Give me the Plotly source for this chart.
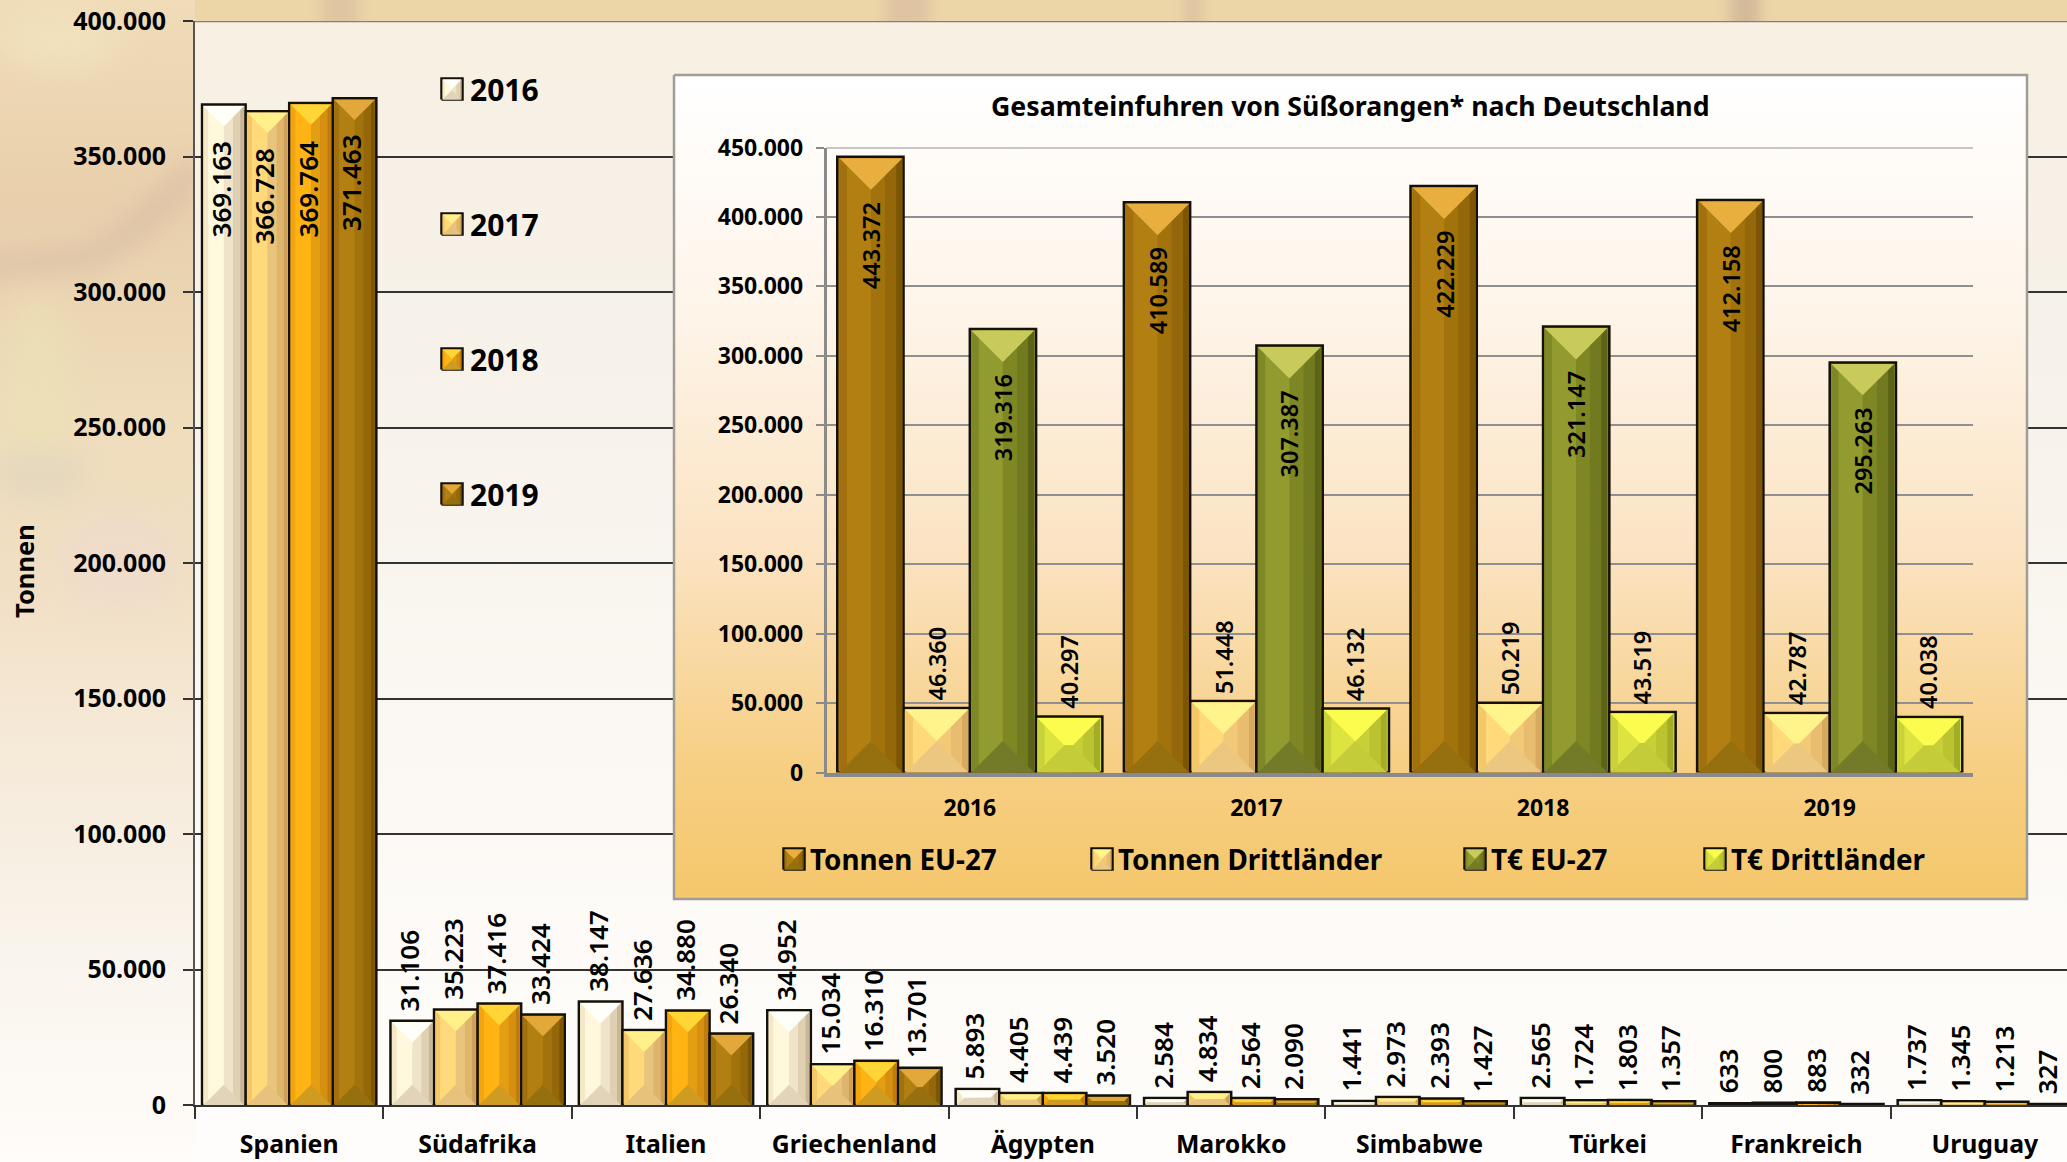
import base64
import plotly.graph_objects as go

W, H = 2067, 1162
FONT = "Noto Sans"

# ---------- data ----------
countries = ["Spanien", "Südafrika", "Italien", "Griechenland", "Ägypten",
             "Marokko", "Simbabwe", "Türkei", "Frankreich", "Uruguay"]
v2016 = [369163, 31106, 38147, 34952, 5893, 2584, 1441, 2565, 633, 1737]
v2017 = [366728, 35223, 27636, 15034, 4405, 4834, 2973, 1724, 800, 1345]
v2018 = [369764, 37416, 34880, 16310, 4439, 2564, 2393, 1803, 883, 1213]
v2019 = [371463, 33424, 26340, 13701, 3520, 2090, 1427, 1357, 332, 327]

years = ["2016", "2017", "2018", "2019"]
tonnen_eu = [443372, 410589, 422229, 412158]
tonnen_dritt = [46360, 51448, 50219, 42787]
teuro_eu = [319316, 307387, 321147, 295263]
teuro_dritt = [40297, 46132, 43519, 40038]

inset_title = "Gesamteinfuhren von Süßorangen* nach Deutschland"

# colours: five vertical strips, top facet, bottom facet
PAL = {
    "2016": ["#f4e8c6", "#fff8dc", "#efe4ca", "#dfd0b2", "#c9b797", "#fffffa", "#e2d4b8"],
    "2017": ["#f4c768", "#ffd97a", "#e9c47c", "#deb56c", "#cf9f55", "#fff08a", "#e6c27c"],
    "2018": ["#f3a40e", "#ffb414", "#e49e12", "#d68f10", "#bd7c0c", "#ffd635", "#cf9b20"],
    "2019": ["#a2700e", "#b27f12", "#a2730c", "#94680a", "#7c5604", "#e2a83a", "#96700f"],
    "Tonnen EU-27": ["#a2700e", "#b27f12", "#a2730c", "#94680a", "#7c5604", "#e8ae3e", "#96700f"],
    "Tonnen Drittländer": ["#f4c768", "#ffd97a", "#f3c877", "#e8bd70", "#d8aa60", "#fff48c", "#ecc780"],
    "T€ EU-27": ["#7f8826", "#929b2f", "#7f8725", "#727a20", "#5c6317", "#c8ca5c", "#737a28"],
    "T€ Drittländer": ["#c9d238", "#dde440", "#c8d037", "#bbc330", "#a5ac26", "#fcfc4e", "#c4cc3a"],
}
STRIPS = [0, 0.12, 0.5, 0.72, 0.9, 1]

# ---------- geometry of the two plots, in page pixels ----------
MX0, MY0, MY1 = 195.0, 21.0, 1105.0      # main plot left, top, bottom
CAT = 188.4
MGAP = 0.075
IX0, IX1, IY0, IY1 = 826.5, 1973.0, 147.5, 772.5   # inset plot
IGAP = 0.08
MYMAX, IYMAX = 400000, 450000


def bevel(fig, xa, ya, name, rects, ux, uy, pad=1.5):
    """Facets over each bar. rects: (left, right, bottom, top) in axis units;
    ux, uy: pixels per axis unit."""
    pal = PAL[name]
    px = pad / ux
    py = pad / uy
    for s in range(5):
        xs, ys = [], []
        for l, r, b, t in rects:
            ww = r - l - 2 * px
            a = l + px + ww * STRIPS[s]
            c = l + px + ww * STRIPS[s + 1]
            xs += [a, c, c, a, a, None]
            ys += [b, b, t - py, t - py, b, None]
        fig.add_trace(go.Scatter(x=xs, y=ys, xaxis=xa, yaxis=ya, mode="lines", line_width=0,
                                 fill="toself", fillcolor=pal[s], hoverinfo="skip", showlegend=False))
    for col, top in ((pal[5], True), (pal[6], False)):
        xs, ys = [], []
        for l, r, b, t in rects:
            l2, r2 = l + px, r - px
            t2 = t - py
            hpx = (t2 - b) * uy
            wpx = (r2 - l2) * ux
            d = min(hpx, wpx) / 2
            dx, dy = d / ux, d / uy
            if top:
                xs += [l2, r2, r2 - dx, l2 + dx, l2, None]
                ys += [t2, t2, t2 - dy, t2 - dy, t2, None]
            else:
                xs += [l2, r2, r2 - dx, l2 + dx, l2, None]
                ys += [b, b, b + dy, b + dy, b, None]
        fig.add_trace(go.Scatter(x=xs, y=ys, xaxis=xa, yaxis=ya, mode="lines", line_width=0,
                                 fill="toself", fillcolor=col, hoverinfo="skip", showlegend=False))


def de(v):
    return f"{v:,}".replace(",", ".")


fig = go.Figure()
ann = []

# ---------- main chart ----------
main_series = [("2016", v2016), ("2017", v2017), ("2018", v2018), ("2019", v2019)]
mux = CAT
muy = (MY1 - MY0) / MYMAX
xs_idx = list(range(len(countries)))
for name, vals in main_series:
    fig.add_trace(go.Bar(x=xs_idx, y=vals, name=name, xaxis="x", yaxis="y", showlegend=False,
                         marker=dict(color=PAL[name][1], line=dict(color="#14110a", width=2.5))))
bw = (1 - MGAP) / 4
for j, (name, vals) in enumerate(main_series):
    rects = []
    for i, v in enumerate(vals):
        l = i - (1 - MGAP) / 2 + j * bw
        rects.append((l, l + bw, 0, v))
        inside = v > 100000
        ann.append(dict(x=l + bw / 2, y=v, xref="x", yref="y", text=de(v), textangle=-90, showarrow=False,
                        yanchor="top" if inside else "bottom", xanchor="center",
                        xshift=-3, yshift=-35 if inside else 7.5,
                        font=dict(family=FONT, size=26, color="#000000", weight=600)))
    bevel(fig, "x", "y", name, rects, mux, muy)

# ---------- inset panel (page-pixel axes x2 / y2) ----------
PX0, PX1, PY0, PY1 = 674, 2027, 75, 899
fig.add_trace(go.Scatter(x=[PX0, PX1, PX1, PX0, PX0], y=[PY0, PY0, PY1, PY1, PY0], xaxis="x2", yaxis="y2",
                         mode="lines", line=dict(color="#a09c96", width=2.5), fill="toself",
                         fillgradient=dict(type="vertical",
                                           colorscale=[[0, "#f5c76c"], [0.16, "#f7cf83"], [0.42, "#fbe3c2"],
                                                       [0.72, "#fef5ea"], [1, "#ffffff"]]),
                         hoverinfo="skip", showlegend=False))

# ---------- inset chart ----------
inset_series = [("Tonnen EU-27", tonnen_eu), ("Tonnen Drittländer", tonnen_dritt),
                ("T€ EU-27", teuro_eu), ("T€ Drittländer", teuro_dritt)]
iux = (IX1 - IX0) / 4
iuy = (IY1 - IY0) / IYMAX
ibw = (1 - IGAP) / 4
yrs_idx = list(range(len(years)))
for name, vals in inset_series:
    fig.add_trace(go.Bar(x=yrs_idx, y=vals, name=name, xaxis="x3", yaxis="y3", showlegend=False,
                         marker=dict(color=PAL[name][1], line=dict(color="#14110a", width=2.5))))
for j, (name, vals) in enumerate(inset_series):
    rects = []
    for i, v in enumerate(vals):
        l = i - (1 - IGAP) / 2 + j * ibw
        rects.append((l, l + ibw, 0, v))
        inside = v > 100000
        ann.append(dict(x=l + ibw / 2, y=v, xref="x3", yref="y3", text=de(v), textangle=-90, showarrow=False,
                        yanchor="top" if inside else "bottom", xanchor="center",
                        yshift=-43 if inside else 5.5,
                        font=dict(family=FONT, size=23.5, color="#000000", weight=600)))
    bevel(fig, "x3", "y3", name, rects, iux, iuy)


# ---------- legends: bevelled swatches + real text, placed in page pixels ----------
def swatch(name, cx, cy, label, fs, gap):
    half = 10.5
    fig.add_trace(go.Scatter(x=[cx - half, cx + half, cx + half, cx - half, cx - half],
                             y=[cy + half, cy + half, cy - half, cy - half, cy + half],
                             xaxis="x2", yaxis="y2", mode="lines", fill="toself", fillcolor=PAL[name][1],
                             line=dict(color="#14110a", width=2.5), hoverinfo="skip", showlegend=False, name=name))
    bevel(fig, "x2", "y2", name, [(cx - half, cx + half, cy + half, cy - half)], 1.0, -1.0, pad=1.0)
    ann.append(dict(x=cx + half + gap, y=cy, xref="x2", yref="y2", text=label, showarrow=False,
                    xanchor="left", yanchor="middle", font=dict(family=FONT, size=fs, color="#000000", weight=700)))


for yr, ypx in zip(years, (89, 224, 359, 494)):
    swatch(yr, 452, ypx, yr, 30, 5)
for (name, _), xpx in zip(inset_series, (794, 1102, 1475, 1715)):
    swatch(name, xpx, 859, name, 27.8, 3)

ann.append(dict(x=(PX0 + PX1) / 2, y=105, xref="x2", yref="y2", text=inset_title, showarrow=False,
                xanchor="center", yanchor="middle", font=dict(family=FONT, size=26.7, color="#000000", weight=700)))
ann.append(dict(x=24, y=571, xref="x2", yref="y2", text="Tonnen", textangle=-90, showarrow=False,
                xanchor="center", yanchor="middle", font=dict(family=FONT, size=25.5, color="#000000", weight=700)))

# ---------- page background ----------
svg = f"""<svg xmlns='http://www.w3.org/2000/svg' width='{W}' height='{H}' viewBox='0 0 {W} {H}'>
<defs>
<linearGradient id='a' x1='0' y1='0' x2='0' y2='1'>
<stop offset='0' stop-color='#f9f0e2'/><stop offset='0.14' stop-color='#f6f0e6'/><stop offset='0.35' stop-color='#f7f2ea'/>
<stop offset='0.7' stop-color='#fcf9f5'/><stop offset='1' stop-color='#fffdfb'/></linearGradient>
<linearGradient id='b' x1='0' y1='0' x2='0' y2='1'>
<stop offset='0' stop-color='#f0dcb8'/><stop offset='0.18' stop-color='#e9cfac'/>
<stop offset='0.35' stop-color='#eedcba'/><stop offset='0.5' stop-color='#f1dfc4'/><stop offset='0.65' stop-color='#f6ead9'/>
<stop offset='0.82' stop-color='#f9f4ec'/><stop offset='1' stop-color='#fffcf9'/></linearGradient>
<filter id='f' filterUnits='userSpaceOnUse' x='-100' y='-100' width='500' height='1000'><feGaussianBlur stdDeviation='14'/></filter>
<filter id='g' filterUnits='userSpaceOnUse' x='0' y='-40' width='{W}' height='100'><feGaussianBlur stdDeviation='7'/></filter>
<clipPath id='l'><rect x='0' y='0' width='195' height='{H}'/></clipPath>
<clipPath id='t'><rect x='0' y='0' width='{W}' height='21'/></clipPath>
</defs>
<rect width='{W}' height='{H}' fill='url(#a)'/>
<rect width='{W}' height='21' fill='#ecd6a8'/>
<g clip-path='url(#t)'><g filter='url(#g)' opacity='0.8'>
<rect x='885' y='-20' width='45' height='60' fill='#dcbfa2'/>
<rect x='1185' y='-20' width='16' height='60' fill='#d8bb9e'/>
<rect x='1730' y='-20' width='30' height='60' fill='#cdb397'/>
<rect x='320' y='-20' width='40' height='60' fill='#dcc2a0'/>
</g></g>
<rect x='0' y='0' width='195' height='{H}' fill='url(#b)'/>
<g clip-path='url(#l)'>
<polyline points='-20,268 90,258 130,235 200,165' fill='none' stroke='#cdb0a0' stroke-width='20' opacity='0.55' filter='url(#f)'/>
<ellipse cx='38' cy='385' rx='34' ry='90' fill='#ebe4b4' opacity='0.5' filter='url(#f)'/>
<ellipse cx='40' cy='475' rx='46' ry='26' fill='#d9d0c0' opacity='0.45' filter='url(#f)'/>
<ellipse cx='120' cy='560' rx='60' ry='50' fill='#eed9d0' opacity='0.5' filter='url(#f)'/>
<ellipse cx='60' cy='40' rx='60' ry='30' fill='#f2e4c0' opacity='0.7' filter='url(#f)'/>
</g>
</svg>"""
bg = "data:image/svg+xml;base64," + base64.b64encode(svg.encode()).decode()

ytick = dict(family=FONT, size=25, color="#000000", weight=700)
itick = dict(family=FONT, size=23, color="#000000", weight=700)

fig.update_layout(
    width=W, height=H, autosize=False,
    margin=dict(l=0, r=0, t=0, b=0),
    paper_bgcolor="rgba(0,0,0,0)", plot_bgcolor="rgba(0,0,0,0)",
    barmode="group", bargap=MGAP, bargroupgap=0,
    separators=",.",
    showlegend=False,
    images=[dict(source=bg, xref="paper", yref="paper", x=0, y=1, sizex=1, sizey=1,
                 sizing="stretch", layer="below", xanchor="left", yanchor="top")],
    annotations=ann,
    # main
    xaxis=dict(domain=[MX0 / W, 1], range=[-0.5, -0.5 + (W - MX0) / CAT], tickmode="array", anchor="y",
               tickvals=xs_idx, ticktext=countries, ticks="", showgrid=False, zeroline=False,
               tickfont=dict(family=FONT, size=24.8, color="#000000", weight=700), ticklabelstandoff=16,
               showline=True, linecolor="#333333", linewidth=2, automargin=False,
               minor=dict(tick0=-0.5, dtick=1, ticks="outside", ticklen=12, tickcolor="#333333", tickwidth=1.5, showgrid=False)),
    yaxis=dict(domain=[1 - MY1 / H, 1 - MY0 / H], range=[0, MYMAX], dtick=50000, tickformat=",d", anchor="x",
               ticks="outside", ticklen=10, tickcolor="#333333", tickwidth=1.5, tickfont=ytick, ticklabelstandoff=12,
               showgrid=True, gridcolor="#333333", gridwidth=2, zeroline=False,
               showline=True, linecolor="#555555", linewidth=2, automargin=False),
    # panel axes in page pixels
    xaxis2=dict(domain=[0, 1], range=[0, W], visible=False, fixedrange=True, anchor="y2"),
    yaxis2=dict(domain=[0, 1], range=[H, 0], visible=False, fixedrange=True, anchor="x2"),
    # inset
    xaxis3=dict(domain=[IX0 / W, IX1 / W], range=[-0.5, 3.5], tickmode="array", tickvals=yrs_idx, ticktext=years,
                anchor="y3", ticks="", showgrid=False, zeroline=False, tickfont=itick, ticklabelstandoff=12,
                showline=True, linecolor="#8a8a8a", linewidth=4, automargin=False),
    yaxis3=dict(domain=[1 - IY1 / H, 1 - IY0 / H], range=[0, IYMAX], dtick=50000, tickformat=",d", anchor="x3",
                ticks="outside", ticklen=8, tickcolor="#8a8a8a", tickwidth=2, tickfont=itick, ticklabelstandoff=8,
                showgrid=True, gridcolor="#8f8f8f", gridwidth=2, zeroline=False,
                showline=True, linecolor="#8a8a8a", linewidth=2.5, automargin=False),
)
# top frame lines
fig.add_shape(type="line", xref="x domain", yref="y", x0=0, x1=1, y0=MYMAX, y1=MYMAX, line=dict(color="#808080", width=2.5))
fig.add_shape(type="line", xref="x3 domain", yref="y3", x0=0, x1=1, y0=IYMAX, y1=IYMAX, line=dict(color="#8f8f8f", width=2))

fig.write_html("out.html", config={"displayModeBar": False}, post_script="document.body.style.margin='0';")
